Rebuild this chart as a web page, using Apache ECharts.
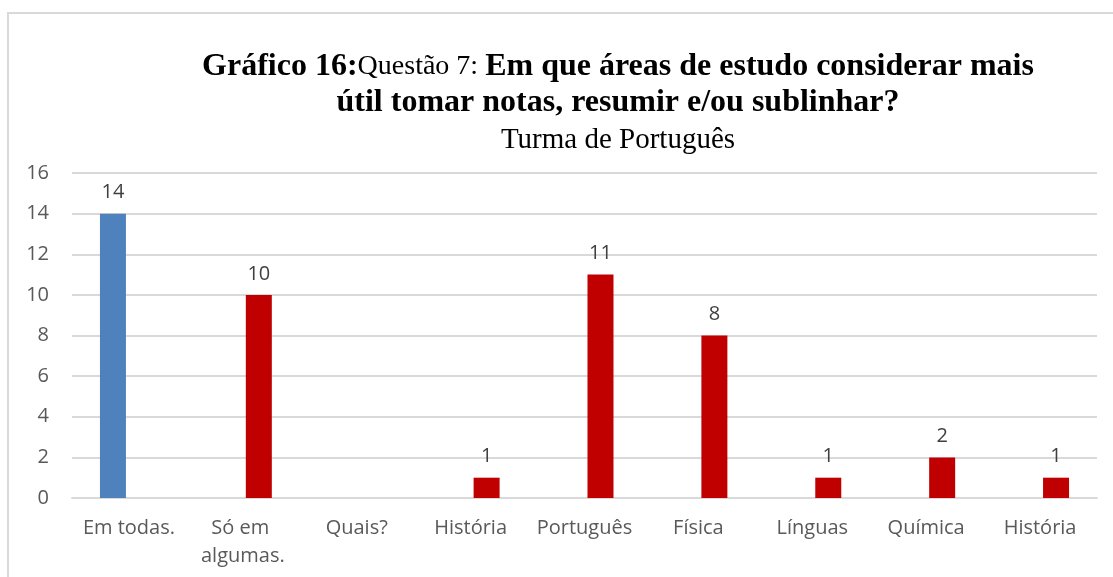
<!DOCTYPE html>
<html>
<head>
<meta charset="utf-8">
<script src="https://cdn.jsdelivr.net/npm/echarts@6/dist/echarts.min.js"></script>
<style>html,body{margin:0;padding:0;background:#fff}#c{width:1113px;height:577px}</style>
</head>
<body>
<div id="c"></div>
<script>
const categories = ['Em todas.', 'Só em algumas.', 'Quais?', 'História', 'Português', 'Física', 'Línguas', 'Química', 'História'];
const seriesBlue = [14, null, null, null, null, null, null, null, null];
const seriesRed = [null, 10, null, 1, 11, 8, 1, 2, 1];
const yTicks = { min: 0, max: 16, interval: 2 };

const chart = echarts.init(document.getElementById('c'), null, { renderer: 'canvas' });
const labelFont = '"Open Sans", "Noto Sans", sans-serif';
const serif = '"Liberation Serif", "Times New Roman", serif';
chart.setOption({
  animation: false,
  graphic: [{
    type: 'polyline',
    shape: { points: [[8, 600], [8, 13], [1120, 13]] },
    style: { stroke: '#d9d9d9', lineWidth: 2, fill: null },
    silent: true
  }],
  title: [{
    left: 613, top: 44, textAlign: 'center',
    text: '{b|Gráfico 16:}{n|Questão 7: }{b|Em que áreas de estudo considerar mais}\n{b|útil tomar notas, resumir e/ou sublinhar?}',
    textStyle: {
      rich: {
        b: { fontFamily: serif, fontWeight: 'bold', fontSize: 32, color: '#000', lineHeight: 36 },
        n: { fontFamily: serif, fontWeight: 'normal', fontSize: 28, color: '#000', lineHeight: 36 }
      }
    }
  }, {
    left: 613, top: 121, textAlign: 'center',
    text: 'Turma de Português',
    textStyle: { fontFamily: serif, fontWeight: 'normal', fontSize: 29, color: '#000' }
  }],
  grid: { left: 72, right: 16, top: 173, bottom: 79, containLabel: false },
  xAxis: {
    type: 'category',
    data: categories,
    axisLine: { lineStyle: { color: '#d9d9d9', width: 2 } },
    axisTick: { show: false },
    axisLabel: {
      color: '#595959', fontFamily: labelFont, fontSize: 20, margin: 16,
      width: 110, overflow: 'break', lineHeight: 28, interval: 0
    }
  },
  yAxis: {
    type: 'value',
    min: yTicks.min, max: yTicks.max, interval: yTicks.interval,
    axisLine: { show: false },
    axisTick: { show: false },
    splitLine: { lineStyle: { color: '#d9d9d9', width: 2 } },
    axisLabel: { color: '#595959', fontFamily: labelFont, fontSize: 20, margin: 23 }
  },
  series: [{
    type: 'bar', data: seriesBlue, barWidth: 26, barGap: '23%',
    itemStyle: { color: '#4f81bd' },
    label: { show: true, position: 'top', distance: 11, color: '#404040', fontFamily: labelFont, fontSize: 20 }
  }, {
    type: 'bar', data: seriesRed, barWidth: 26,
    itemStyle: { color: '#c00000' },
    label: { show: true, position: 'top', distance: 11, color: '#404040', fontFamily: labelFont, fontSize: 20 }
  }]
});
</script>
</body>
</html>
